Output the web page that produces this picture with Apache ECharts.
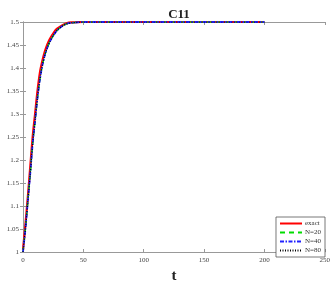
<!DOCTYPE html>
<html>
<head>
<meta charset="utf-8">
<script src="https://cdn.jsdelivr.net/npm/echarts@6/dist/echarts.min.js"></script>
<style>
html, body { margin: 0; padding: 0; background: #fff; }
#chart { width: 333px; height: 289px; }
</style>
</head>
<body>
<div id="chart"></div>
<script>
// time points
var tVals = [0, 2, 4, 6, 8, 10, 12, 14, 16, 18, 20, 22, 25, 28, 32, 36, 40, 50, 60, 80, 100, 150, 200];
// exact solution
var exactVals = [1.005, 1.06, 1.12, 1.185, 1.25, 1.30, 1.35, 1.39, 1.415, 1.435, 1.45, 1.462, 1.475, 1.485, 1.492, 1.497, 1.499, 1.5, 1.5, 1.5, 1.5, 1.5, 1.5];
// numerical runs (almost on top of each other, a bit behind the exact one)
var n20Vals = [1.0, 1.05, 1.11, 1.17, 1.235, 1.285, 1.335, 1.375, 1.405, 1.427, 1.443, 1.456, 1.47, 1.481, 1.49, 1.496, 1.498, 1.5, 1.5, 1.5, 1.5, 1.5, 1.5];
var n40Vals = [1.0, 1.05, 1.11, 1.17, 1.235, 1.285, 1.335, 1.375, 1.405, 1.427, 1.443, 1.456, 1.47, 1.481, 1.49, 1.496, 1.498, 1.5, 1.5, 1.5, 1.5, 1.5, 1.5];
var n80Vals = [1.0, 1.05, 1.11, 1.17, 1.235, 1.285, 1.335, 1.375, 1.405, 1.427, 1.443, 1.456, 1.47, 1.481, 1.49, 1.496, 1.498, 1.5, 1.5, 1.5, 1.5, 1.5, 1.5];
var seriesNames = ['exact', 'N=20', 'N=40', 'N=80'];

function pairs(ys){
    var out = [];
    for(var i = 0; i < tVals.length; i++){
        out.push([tVals[i], ys[i]]);
    }
    return out;
}

var serif = '"Liberation Serif", "DejaVu Serif", serif';
var axisColor = '#999';

function yLabel(v){
    return String(Math.round(v * 100) / 100);
}

var myChart = echarts.init(document.getElementById('chart'));
var option = {
    animation: false,
    backgroundColor: '#fff',
    title: {
        text: 'C11',
        left: 174,
        top: 3,
        textAlign: 'center',
        textStyle: { fontFamily: serif, fontWeight: 'bold', fontSize: 13, color: '#222' }
    },
    grid: { left: 23, right: 7, top: 22, bottom: 27 },
    legend: {
        orient: 'vertical',
        right: 8,
        bottom: 32,
        itemWidth: 22,
        itemHeight: 6,
        itemGap: 2,
        padding: [3, 4, 3, 3],
        borderColor: '#555',
        borderWidth: 0.8,
        backgroundColor: '#fff',
        data: seriesNames,
        itemStyle: { opacity: 0 },
        textStyle: { fontFamily: serif, fontSize: 7, color: '#333', padding: [0, 0, 0, -2] }
    },
    xAxis: [{
        type: 'value',
        min: 0, max: 250, interval: 50,
        name: 't',
        nameLocation: 'middle',
        nameGap: 17,
        nameTextStyle: { fontFamily: serif, fontWeight: 'bold', fontSize: 15, color: '#222' },
        axisLine: { lineStyle: { color: axisColor } },
        axisTick: { inside: true, length: 3, lineStyle: { color: axisColor } },
        axisLabel: { fontFamily: serif, fontSize: 7, color: '#444', margin: 5 },
        splitLine: { show: false }
    }, {
        type: 'value',
        position: 'top',
        min: 0, max: 250, interval: 50,
        axisLine: { lineStyle: { color: axisColor } },
        axisTick: { inside: true, length: 3, lineStyle: { color: axisColor } },
        axisLabel: { show: false },
        splitLine: { show: false }
    }],
    yAxis: [{
        type: 'value',
        min: 1, max: 1.5, interval: 0.05,
        axisLine: { show: true, lineStyle: { color: axisColor } },
        axisTick: { show: true, inside: true, length: 3, lineStyle: { color: axisColor } },
        axisLabel: { fontFamily: serif, fontSize: 7, color: '#444', margin: 4, formatter: yLabel },
        splitLine: { show: false }
    }, {
        type: 'value',
        position: 'right',
        min: 1, max: 1.5, interval: 0.05,
        axisLine: { show: true, lineStyle: { color: axisColor } },
        axisTick: { show: true, inside: true, length: 3, lineStyle: { color: axisColor } },
        axisLabel: { show: false },
        splitLine: { show: false }
    }],
    series: [
        {
            name: 'exact', type: 'line', smooth: 0.3, symbol: 'none',
            data: pairs(exactVals),
            lineStyle: { color: '#ff0000', width: 2.2, type: 'solid' },
            itemStyle: { color: '#ff0000' }
        },
        {
            name: 'N=20', type: 'line', smooth: 0.3, symbol: 'none',
            data: pairs(n20Vals),
            lineStyle: { color: '#00dd00', width: 1.5, type: [5, 4] },
            itemStyle: { color: '#00dd00' }
        },
        {
            name: 'N=40', type: 'line', smooth: 0.3, symbol: 'none',
            data: pairs(n40Vals),
            lineStyle: { color: '#2222ff', width: 1.8, type: [4, 1.5, 1.5, 1.5] },
            itemStyle: { color: '#2222ff' }
        },
        {
            name: 'N=80', type: 'line', smooth: 0.3, symbol: 'none',
            data: pairs(n80Vals),
            lineStyle: { color: '#000000', width: 1.2, type: [1, 1.5] },
            itemStyle: { color: '#000000' }
        }
    ]
};
myChart.setOption(option);
</script>
</body>
</html>
